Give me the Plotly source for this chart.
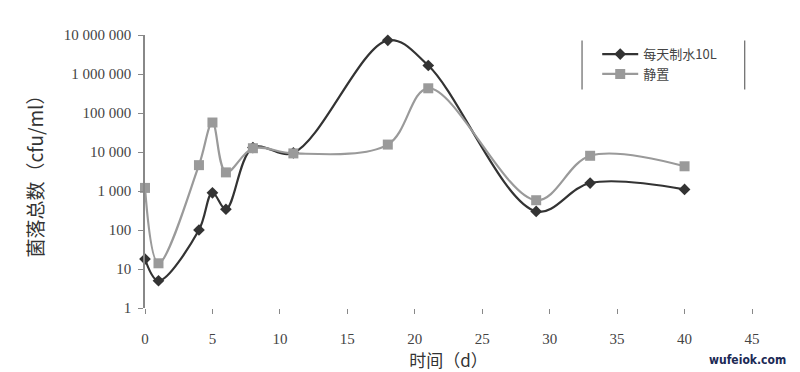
import plotly.graph_objects as go

days = [0, 1, 4, 5, 6, 8, 11, 18, 21, 29, 33, 40]
daily_10L = [18, 5, 100, 900, 340, 13000, 9500, 7300000, 1650000, 300, 1600, 1100]
standing = [1200, 14, 4600, 57000, 3000, 12500, 9200, 15500, 430000, 580, 8000, 4300]
names = ["每天制水10L", "静置"]

y_tickvals = [1, 10, 100, 1000, 10000, 100000, 1000000, 10000000]
y_ticktext = ["1", "10", "100", "1 000", "10 000", "100 000", "1 000 000", "10 000 000"]
x_tickvals = [0, 5, 10, 15, 20, 25, 30, 35, 40, 45]

SERIF = "Liberation Serif"
CJK = "Noto Sans CJK SC"

fig = go.Figure()
fig.add_trace(go.Scatter(
    x=days, y=daily_10L, name=names[0], mode="lines+markers",
    line=dict(color="#333333", width=2.2, shape="spline", smoothing=1.0),
    marker=dict(symbol="diamond", size=9, color="#333333"),
    cliponaxis=False,
))
fig.add_trace(go.Scatter(
    x=days, y=standing, name=names[1], mode="lines+markers",
    line=dict(color="#9a9a9a", width=2.2, shape="spline", smoothing=1.0),
    marker=dict(symbol="square", size=10, color="#9a9a9a"),
    cliponaxis=False,
))

fig.update_layout(
    width=800, height=372,
    margin=dict(l=145, r=48, t=35, b=64),
    paper_bgcolor="white", plot_bgcolor="white",
    font=dict(family=SERIF, size=14, color="#333333"),
    showlegend=True,
    legend=dict(x=0.745, y=0.985, xanchor="left", yanchor="top",
                bgcolor="rgba(0,0,0,0)", font=dict(size=13, family=CJK, color="#444444"),
                tracegroupgap=2, itemwidth=36),
    xaxis=dict(range=[0, 45], tickvals=x_tickvals, showgrid=False, zeroline=False,
               showline=False, ticks="outside", ticklen=5, tickcolor="#888888",
               ticklabelstandoff=12, automargin=False,
               tickfont=dict(size=15, family=SERIF, color="#444444"),
               title=dict(text="时间（d）", font=dict(size=17, family=CJK, color="#333333"))),
    yaxis=dict(type="log", range=[0, 7], tickvals=y_tickvals, ticktext=y_ticktext,
               showgrid=False, zeroline=False, showline=True, linecolor="#888888",
               linewidth=1.5, ticks="outside", ticklen=5, tickcolor="#888888",
               ticklabelstandoff=4, automargin=False,
               tickfont=dict(size=15, family=SERIF, color="#444444"),
               title=dict(text="菌落总数（cfu/ml）", font=dict(size=19, family=CJK, color="#333333"))),
    shapes=[
        dict(type="line", xref="paper", yref="paper", x0=0.72, x1=0.72, y0=0.80, y1=0.98,
             line=dict(color="#666666", width=1.2)),
        dict(type="line", xref="paper", yref="paper", x0=0.988, x1=0.988, y0=0.80, y1=0.98,
             line=dict(color="#666666", width=1.2)),
    ],
    annotations=[
        dict(text="<b>wufeiok.com</b>", xref="paper", yref="paper", x=1.06, y=-0.19,
             xanchor="right", yanchor="middle", showarrow=False,
             font=dict(size=12, family="DejaVu Sans Condensed, DejaVu Sans", color="#1c2a55")),
    ],
)

fig.write_html("out.html")
